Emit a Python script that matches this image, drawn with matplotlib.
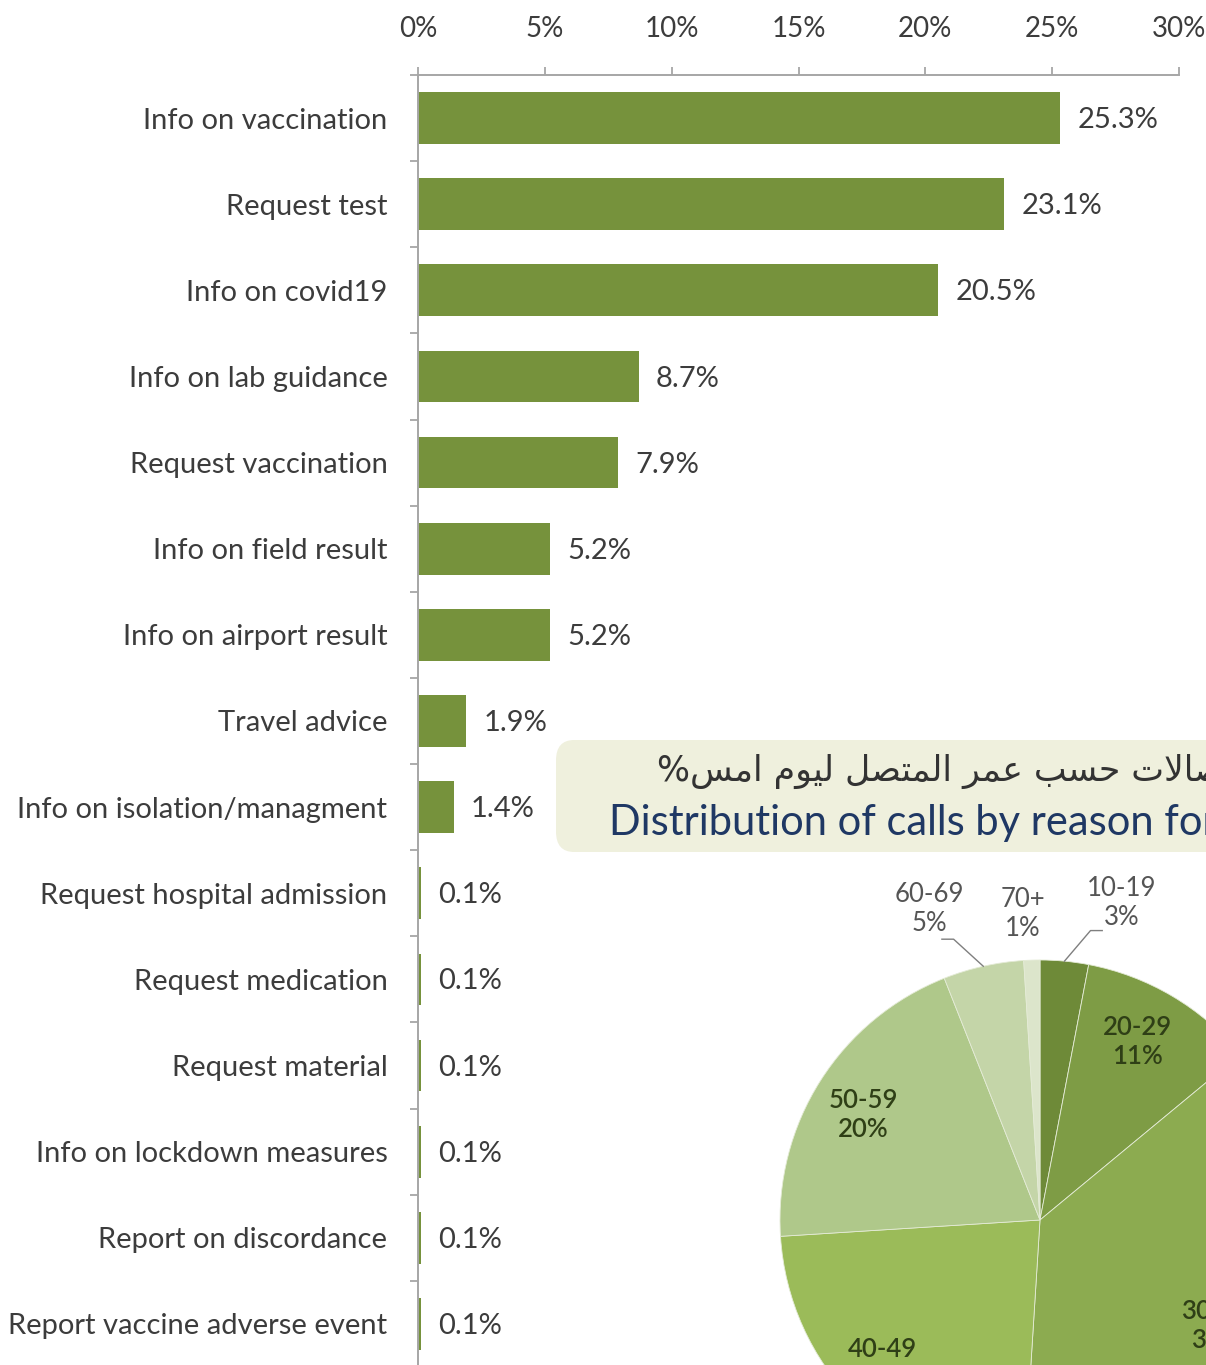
import matplotlib
matplotlib.use('Agg')
import matplotlib.pyplot as plt
from matplotlib.patches import FancyBboxPatch
import numpy as np

plt.rcParams['font.family'] = ['Lato', 'DejaVu Sans']

# ---------------- data ----------------
categories = ['Info on vaccination', 'Request test', 'Info on covid19',
              'Info on lab guidance', 'Request vaccination', 'Info on field result',
              'Info on airport result', 'Travel advice', 'Info on isolation/managment',
              'Request hospital admission', 'Request medication', 'Request material',
              'Info on lockdown measures', 'Report on discordance',
              'Report vaccine adverse event']
values = [25.3, 23.1, 20.5, 8.7, 7.9, 5.2, 5.2, 1.9, 1.4, 0.1, 0.1, 0.1, 0.1, 0.1, 0.1]
xticks = [0, 5, 10, 15, 20, 25, 30]

age_groups = ['10-19', '20-29', '30-39', '40-49', '50-59', '60-69', '70+']
age_shares = [3, 11, 37, 23, 20, 5, 1]

title_ar = 'توزيع الاتصالات حسب عمر المتصل ليوم امس%'
title_en = 'Distribution of calls by reason for'

# ---------------- style ----------------
W, H = 1206, 1365
BAR = '#76923C'
GRAY = '#A6A6A6'
TXT = '#3C3C3C'
pie_colors = ['#6E8A38', '#7E9C45', '#8CAB50', '#9BBB59', '#AFC88A', '#C4D5A8', '#DCE5CB']
label_r = [1.26, 0.78, 0.79, 0.82, 0.79, 1.27, 1.18]
label_dth = [9, -2, 4, 2.5, -1.6, -7, -1.4]
label_inside = [False, True, True, True, True, False, False]

# ---------------- arabic shaping (visual order) ----------------
FORMS = {
    'ا': ('\uFE8D', '\uFE8E', None, None),
    'ب': ('\uFE8F', '\uFE90', '\uFE91', '\uFE92'),
    'ت': ('\uFE95', '\uFE96', '\uFE97', '\uFE98'),
    'ح': ('\uFEA1', '\uFEA2', '\uFEA3', '\uFEA4'),
    'ر': ('\uFEAD', '\uFEAE', None, None),
    'ز': ('\uFEAF', '\uFEB0', None, None),
    'س': ('\uFEB1', '\uFEB2', '\uFEB3', '\uFEB4'),
    'ص': ('\uFEB9', '\uFEBA', '\uFEBB', '\uFEBC'),
    'ع': ('\uFEC9', '\uFECA', '\uFECB', '\uFECC'),
    'ل': ('\uFEDD', '\uFEDE', '\uFEDF', '\uFEE0'),
    'م': ('\uFEE1', '\uFEE2', '\uFEE3', '\uFEE4'),
    'و': ('\uFEED', '\uFEEE', None, None),
    'ي': ('\uFEF1', '\uFEF2', '\uFEF3', '\uFEF4'),
    'لا': ('\uFEFB', '\uFEFC', None, None),
}


def shape_rtl(s):
    toks = []
    i = 0
    while i < len(s):
        if s[i] == 'ل' and i + 1 < len(s) and s[i + 1] == 'ا':
            toks.append('لا')
            i += 2
        else:
            toks.append(s[i])
            i += 1
    out = []
    for j, t in enumerate(toks):
        if t not in FORMS:
            out.append(t)
            continue
        prev = toks[j - 1] if j > 0 else None
        nxt = toks[j + 1] if j + 1 < len(toks) else None
        jp = prev in FORMS and FORMS[prev][2] is not None
        jn = nxt in FORMS and FORMS[t][2] is not None
        iso, fin, ini, med = FORMS[t]
        out.append(med if (jp and jn) else fin if jp else ini if jn else iso)
    return ''.join(out)[::-1]


# ---------------- figure ----------------
fig = plt.figure(figsize=(W / 100, H / 100), dpi=100)
fig.patch.set_facecolor('white')

top_px, bot_px, left_px, right_px = 75, 1367, 418, 1179
ax = fig.add_axes([left_px / W, 1 - bot_px / H, (right_px - left_px) / W, (bot_px - top_px) / H])
y = np.arange(len(categories))
ax.barh(y, values, height=0.6, color=BAR, zorder=2)
ax.set_xlim(0, 30)
ax.set_ylim(len(categories) - 0.5, -0.5)
ax.xaxis.tick_top()
ax.set_xticks(xticks)
ax.set_xticklabels([f'{t}%' for t in xticks])
ax.tick_params(axis='x', which='major', direction='out', length=6, width=1.3, color=GRAY,
               pad=18, labelsize=20, labelcolor=TXT)
ax.set_yticks(y)
ax.set_yticklabels(categories)
ax.tick_params(axis='y', which='major', length=0, pad=22, labelsize=21, labelcolor=TXT)
ax.set_yticks(np.arange(-0.5, len(categories)), minor=True)
ax.tick_params(axis='y', which='minor', length=6, width=1.3, color=GRAY, direction='out')
for s in ['right', 'bottom']:
    ax.spines[s].set_visible(False)
for s in ['top', 'left']:
    ax.spines[s].set_color(GRAY)
    ax.spines[s].set_linewidth(1.4)
for v, yy in zip(values, y):
    ax.annotate(f'{v}%', (v, yy), xytext=(12.5, -1.5), textcoords='offset points',
                ha='left', va='center', fontsize=21, color=TXT)

# ---------------- title box ----------------
box = FancyBboxPatch((556 / W, 1 - 852 / H), (700) / W, (852 - 740) / H,
                     boxstyle='round,pad=0,rounding_size=0.015',
                     transform=fig.transFigure, facecolor='#EFF0DD', edgecolor='none',
                     zorder=3)
fig.patches.append(box)
fig.text(657 / W, 1 - 772 / H, shape_rtl(title_ar), family='DejaVu Sans', fontsize=25,
         color='#333333', ha='left', va='center', zorder=4)
fig.text(609 / W, 1 - 823 / H, title_en, fontsize=30, color='#1F3864',
         ha='left', va='center', zorder=4)

# ---------------- pie ----------------
cx, cy, R = 1040, 1220, 260
span = 1.5
axp = fig.add_axes([(cx - span * R) / W, 1 - (cy + span * R) / H, 2 * span * R / W, 2 * span * R / H])
axp.set_zorder(5)
axp.pie(age_shares, colors=pie_colors, startangle=90, counterclock=False, radius=1,
        wedgeprops=dict(edgecolor='#E4EBD6', linewidth=0.6))
axp.set_xlim(-span, span)
axp.set_ylim(-span, span)
axp.set_aspect('equal')
axp.axis('off')

total = sum(age_shares)
cum = 0
for i, (g, s) in enumerate(zip(age_groups, age_shares)):
    mid = (cum + s / 2) / total * 360
    cum += s
    th = np.deg2rad(mid + label_dth[i])
    lx, ly = label_r[i] * np.sin(th), label_r[i] * np.cos(th)
    if label_inside[i]:
        axp.text(lx, ly, f'{g}\n{s}%', ha='center', va='center', fontsize=18.5,
                 color='#2F3F16', linespacing=1.2, weight='semibold')
    else:
        axp.text(lx, ly, f'{g}\n{s}%', ha='center', va='center', fontsize=18.5,
                 color='#555555', linespacing=1.2)

# leader lines for the two small outer labels
for i, side in [(0, 1), (5, -1)]:
    mid = (sum(age_shares[:i]) + age_shares[i] / 2) / total * 360
    t0 = np.deg2rad(mid)
    t1 = np.deg2rad(mid + side * 4.5)
    p0 = (np.sin(t0), np.cos(t0))
    p1 = (1.13 * np.sin(t1), 1.13 * np.cos(t1))
    p2 = (p1[0] + side * 0.045, p1[1])
    axp.plot([p0[0], p1[0], p2[0]], [p0[1], p1[1], p2[1]], color='#7F7F7F', lw=1.0)

fig.savefig('out.png', dpi=100)
